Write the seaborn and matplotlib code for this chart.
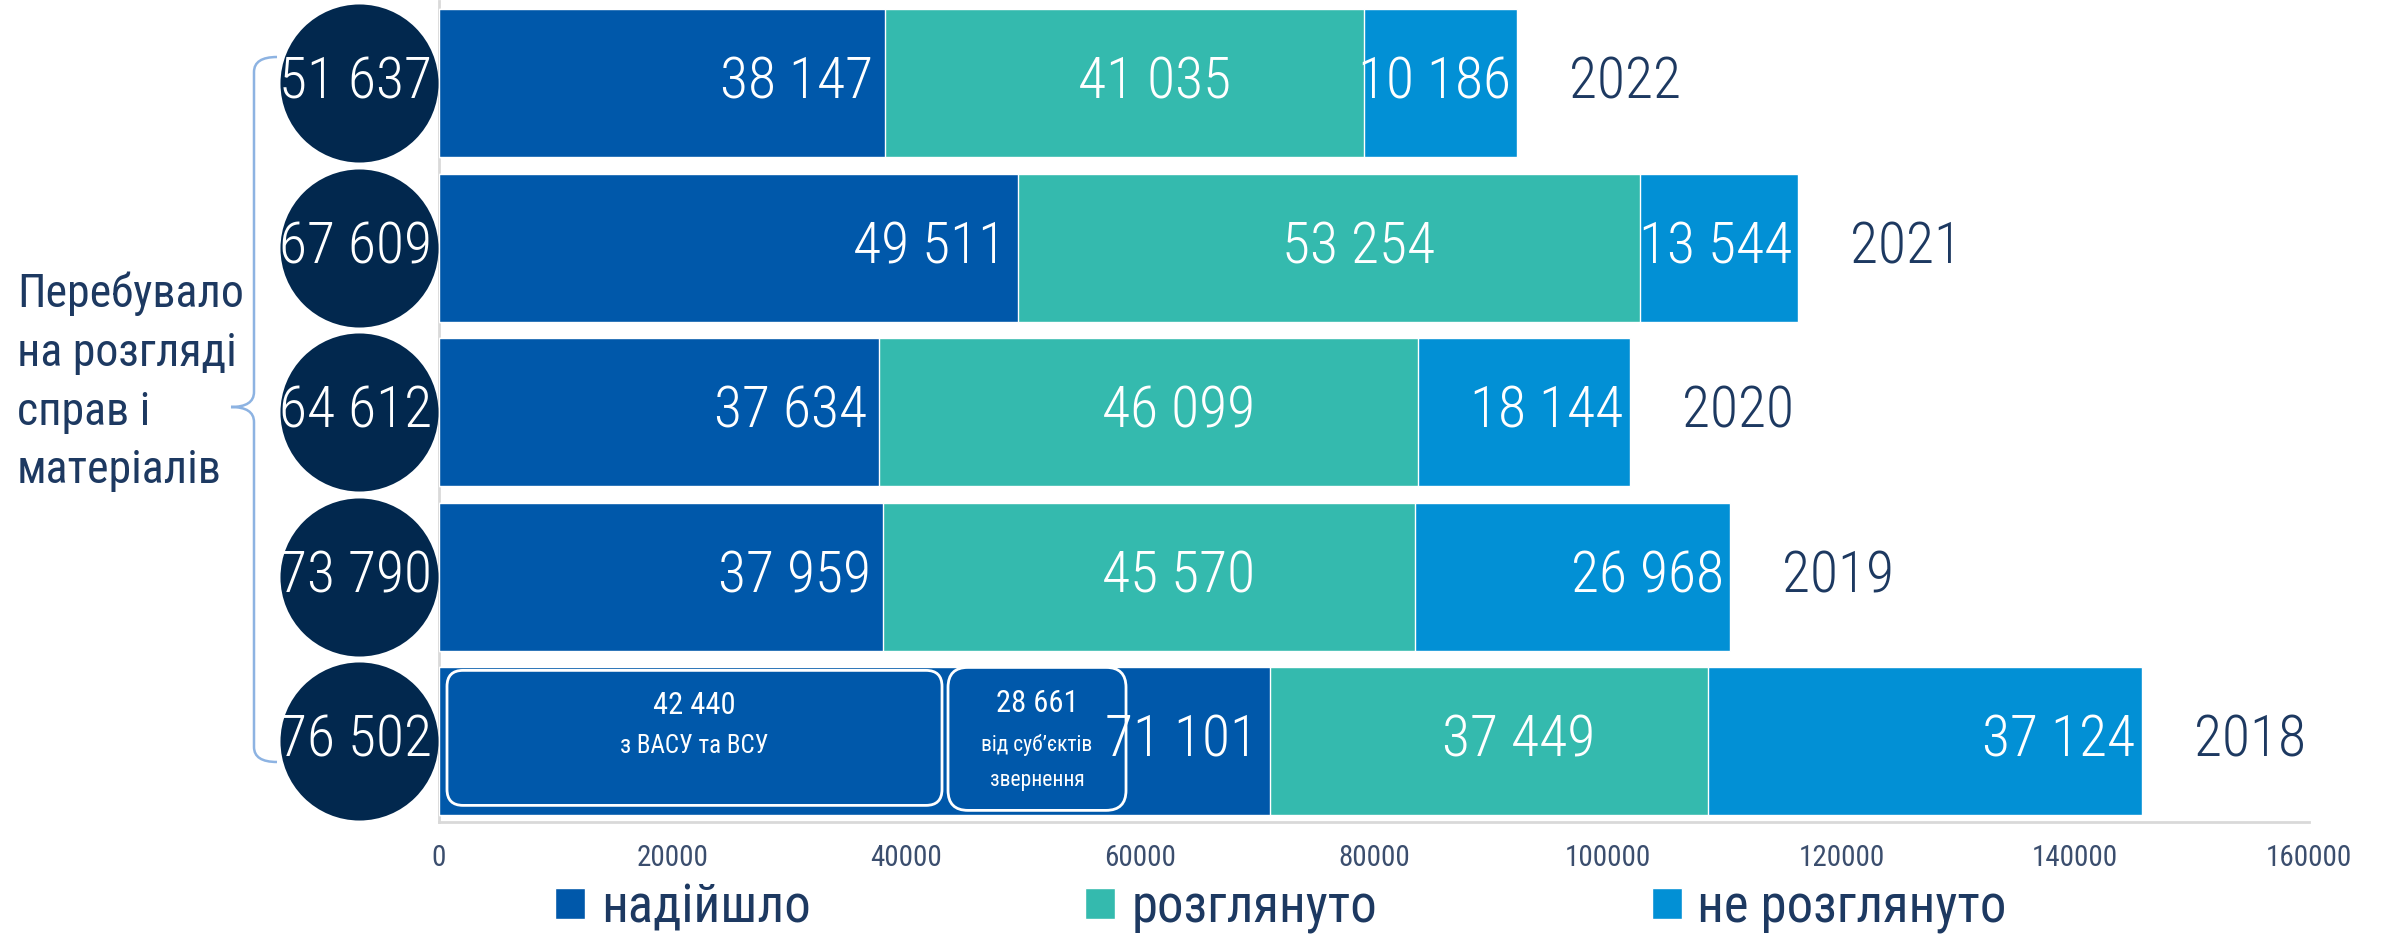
import numpy as np
import pandas as pd
import seaborn as sns
import matplotlib.pyplot as plt
from matplotlib.patches import FancyBboxPatch, Patch, PathPatch
from matplotlib.path import Path
from matplotlib.transforms import offset_copy, IdentityTransform

# дані з картинки
years = ['2022', '2021', '2020', '2019', '2018']
nadiishlo = [38147, 49511, 37634, 37959, 71101]
rozglyanuto = [41035, 53254, 46099, 45570, 37449]
ne_rozglyanuto = [13030, 13544, 18144, 26968, 37124]        # довжина смуги (2022 намальовано довше)
ne_rozglyanuto_pidpys = [10186, 13544, 18144, 26968, 37124]  # підписи на смугах
perebuvalo = [51637, 67609, 64612, 73790, 76502]
# 2018: з чого складається "надійшло"
vasu_vsu = 42440
subjekty = 28661

BLUE = '#0058AA'
TEAL = '#34BAAE'
LIGHT = '#0290D5'
NAVY = '#02284E'
TXT = '#1D3961'
TICK = '#3B4E6E'
GRID = '#D9D9D9'
BIG = 41.5

def fmt(v):
    return f'{v:,}'.replace(',', ' ')

sns.set_theme(style='white')
plt.rcParams['font.family'] = ['Roboto Condensed', 'Roboto', 'DejaVu Sans']

W, H = 2382, 936
fig = plt.figure(figsize=(W / 100, H / 100), dpi=100)
ax = fig.add_axes([439 / W, 1 - 822 / H, 1870 / W, 821 / H])

df = pd.DataFrame({'year': years, 'a': nadiishlo, 'b': rozglyanuto, 'c': ne_rozglyanuto})
df['ab'] = df['a'] + df['b']
df['abc'] = df['ab'] + df['c']

# stacked через накладання кумулятивних сум
for col, c in [('abc', LIGHT), ('ab', TEAL), ('a', BLUE)]:
    sns.barplot(data=df, x=col, y='year', order=years, color=c, saturation=1,
                width=0.9, errorbar=None, orient='h', ax=ax)

ax.set_xlim(0, 160000)
ax.set_ylim(4.49, -0.5)
ax.set_xlabel('')
ax.set_ylabel('')
ax.set_yticks([])
ticks = list(range(0, 160001, 20000))
ax.set_xticks(ticks)
ax.set_xticklabels([str(t) for t in ticks])
ax.tick_params(axis='x', length=0, pad=16, labelsize=21, labelcolor=TICK)
for s in ['top', 'right']:
    ax.spines[s].set_visible(False)
for s in ['left', 'bottom']:
    ax.spines[s].set_color(GRID)
    ax.spines[s].set_linewidth(2)
    ax.spines[s].set_zorder(0.5)

def px(dx):
    return offset_copy(ax.transData, fig=fig, x=dx, y=0, units='dots')

lab = dict(color='white', fontsize=BIG, va='center', fontweight='light')
for i, row in df.iterrows():
    ax.text(row['a'], i, fmt(row['a']), transform=px(-12), ha='right', **lab)
    ax.text(row['a'] + row['b'] / 2, i, fmt(row['b']), transform=px(30), ha='center', **lab)
    ax.text(row['abc'], i, fmt(ne_rozglyanuto_pidpys[i]), transform=px(-6), ha='right', **lab)
    ax.text(row['abc'], i, row['year'], transform=px(52), ha='left', va='center',
            color=TXT, fontsize=BIG, fontweight='light')

# кола з "перебувало на розгляді"
ax.scatter(np.zeros(len(years)), range(len(years)), s=12950, color=NAVY, linewidths=0,
           transform=px(-80), clip_on=False, zorder=5)
for i, v in enumerate(perebuvalo):
    ax.text(0, i, fmt(v), transform=px(-83), ha='center', va='center', color='white',
            fontsize=BIG, fontweight='light', zorder=6, clip_on=False)

# рамки всередині смуги 2018
idx = years.index('2018')
x0, yc = ax.transData.transform((0, idx))
x1, _ = ax.transData.transform((vasu_vsu, idx))
ident = IdentityTransform()
b1 = FancyBboxPatch((x0 + 8, yc - 64), x1 - x0 - 1, 135,
                    boxstyle='round,pad=0,rounding_size=16', transform=ident,
                    facecolor='none', edgecolor='white', linewidth=2, zorder=4)
b2 = FancyBboxPatch((x1 + 13, yc - 69), 178, 143,
                    boxstyle='round,pad=0,rounding_size=20', transform=ident,
                    facecolor='none', edgecolor='white', linewidth=2, zorder=4)
fig.add_artist(b1)
fig.add_artist(b2)
cx1 = (x0 + 8 + x1 + 7) / 2
cx2 = x1 + 13 + 89
small = dict(transform=ident, ha='center', va='center', color='white')
fig.text(cx1, yc + 36, fmt(vasu_vsu), fontsize=22, **small)
fig.text(cx1, yc - 5, 'з ВАСУ та ВСУ', fontsize=18, **small)
fig.text(cx2, yc + 38, fmt(subjekty), fontsize=22, **small)
fig.text(cx2, yc - 4, 'від суб’єктів', fontsize=15.5, **small)
fig.text(cx2, yc - 39, 'звернення', fontsize=15.5, **small)

# фігурна дужка зліва (пікселі, y вниз)
pts = [(277, 57), (254, 57), (254, 72), (254, 392), (254, 407), (231, 407),
       (254, 407), (254, 422), (254, 747), (254, 762), (277, 762)]
codes = [Path.MOVETO, Path.CURVE3, Path.CURVE3, Path.LINETO, Path.CURVE3, Path.CURVE3,
         Path.CURVE3, Path.CURVE3, Path.LINETO, Path.CURVE3, Path.CURVE3]
brace = Path([(x, H - y) for x, y in pts], codes)
fig.add_artist(PathPatch(brace, transform=ident, fill=False, edgecolor='#8DB3E2',
                         linewidth=1.8, zorder=1))

fig.text(17 / W, 1 - 382 / H, 'Перебувало\nна розгляді\nсправ і\nматеріалів',
         ha='left', va='center', fontsize=33, color=TXT, linespacing=1.42)

handles = [Patch(facecolor=BLUE, label='надійшло'),
           Patch(facecolor=TEAL, label='розглянуто'),
           Patch(facecolor=LIGHT, label='не розглянуто')]
fig.legend(handles=handles, loc='center', bbox_to_anchor=(0.5378, 0.03), ncol=3,
           frameon=False, fontsize=38, handlelength=0.57, handleheight=0.53,
           handletextpad=0.3, columnspacing=5.2, labelcolor=TXT)

fig.savefig('out.png', dpi=100)
